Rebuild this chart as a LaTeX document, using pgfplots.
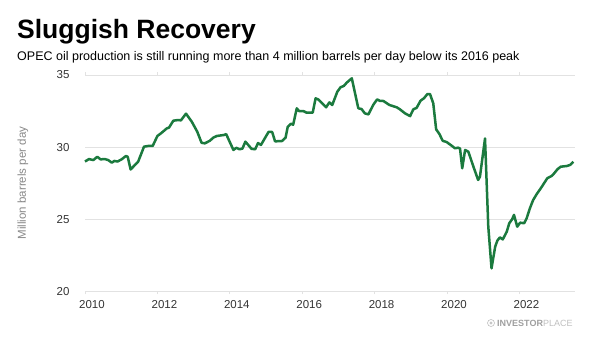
\documentclass[border=0pt]{standalone}
\usepackage{fontspec}
\setmainfont{Liberation Sans}
\usepackage{pgfplots}
\pgfplotsset{compat=1.18}
\definecolor{linegreen}{RGB}{27,122,62}
\definecolor{gridgray}{RGB}{226,226,226}
\definecolor{ticktext}{RGB}{51,51,51}
\definecolor{labelgray}{RGB}{136,136,136}
\begin{document}
\begin{tikzpicture}[x=1bp,y=1bp]
\useasboundingbox (0,0) rectangle (600,337);
\node[anchor=base west, inner sep=0pt] at (17,299) {\fontsize{26.5bp}{30bp}\selectfont\bfseries Sluggish Recovery};
\node[anchor=base west, inner sep=0pt] at (17,277) {\fontsize{12.5bp}{14bp}\selectfont OPEC oil production is still running more than 4 million barrels per day below its 2016 peak};
\node[rotate=90, inner sep=0pt, text=labelgray] at (23,154) {\fontsize{11.5bp}{13bp}\selectfont Million barrels per day};
\begin{axis}[
  at={(85bp,45.7bp)}, anchor=south west,
  scale only axis, width=490bp, height=216.3bp,
  xmin=2010, xmax=2023.536, ymin=20, ymax=35,
  axis line style={draw=none},
  ymajorgrids, grid style={gridgray, line width=0.8bp},
  ytick={20,25,30,35},
  xtick={2010,2012,...,2022},
  xtick align=outside, major tick length=3bp,
  xtick style={gridgray, line width=0.8bp},
  ytick style={draw=none},
  /pgf/number format/assume math mode=true,
  /pgf/number format/1000 sep={},
  tick label style={font=\fontsize{11.5bp}{13bp}\selectfont, text=ticktext},
  xticklabel style={xshift=7bp, yshift=-3bp},
  yticklabel style={xshift=-12bp},
  clip=false,
]
\addplot[linegreen, line width=2.5bp, line join=round] coordinates {
(2010.00,29.00) (2010.11,29.17) (2010.23,29.10) (2010.34,29.33) (2010.43,29.15)
(2010.55,29.17) (2010.64,29.10) (2010.74,28.92) (2010.81,29.04) (2010.90,29.00)
(2011.01,29.15) (2011.13,29.38) (2011.18,29.33) (2011.26,28.45) (2011.38,28.76)
(2011.47,29.00) (2011.63,30.03) (2011.75,30.08) (2011.87,30.08) (2012.00,30.77)
(2012.12,31.00) (2012.26,31.30) (2012.32,31.35) (2012.44,31.83) (2012.58,31.88)
(2012.65,31.85) (2012.79,32.32) (2012.95,31.76) (2013.10,31.07) (2013.22,30.30)
(2013.31,30.26) (2013.45,30.44) (2013.54,30.65) (2013.64,30.77) (2013.84,30.84)
(2013.90,30.90) (2014.10,29.80) (2014.18,29.95) (2014.27,29.85) (2014.35,29.90)
(2014.43,30.38) (2014.60,29.88) (2014.70,29.85) (2014.78,30.28) (2014.86,30.15)
(2015.07,31.05) (2015.17,31.05) (2015.25,30.40) (2015.44,30.42) (2015.54,30.65)
(2015.60,31.40) (2015.69,31.62) (2015.75,31.55) (2015.85,32.69) (2015.91,32.50)
(2016.03,32.50) (2016.12,32.39) (2016.29,32.39) (2016.37,33.38) (2016.44,33.31)
(2016.66,32.76) (2016.75,33.10) (2016.83,32.92) (2016.97,33.84) (2017.06,34.15)
(2017.15,34.24) (2017.23,34.47) (2017.37,34.77) (2017.55,32.69) (2017.64,32.64)
(2017.73,32.34) (2017.83,32.27) (2017.96,32.92) (2018.07,33.31) (2018.15,33.20)
(2018.24,33.20) (2018.41,32.92) (2018.61,32.76) (2018.70,32.62) (2018.84,32.34)
(2018.98,32.15) (2019.07,32.62) (2019.16,32.72) (2019.27,33.22) (2019.36,33.38)
(2019.46,33.68) (2019.53,33.68) (2019.62,33.04) (2019.70,31.23) (2019.79,30.91)
(2019.88,30.44) (2019.99,30.35) (2020.10,30.15) (2020.22,29.92) (2020.31,29.96)
(2020.36,29.90) (2020.42,28.53) (2020.50,29.80) (2020.59,29.68) (2020.73,28.64)
(2020.86,27.72) (2020.91,27.95) (2021.05,30.60) (2021.14,24.50) (2021.23,21.59)
(2021.33,23.09) (2021.39,23.51) (2021.46,23.74) (2021.54,23.60) (2021.65,24.13)
(2021.72,24.72) (2021.80,25.00) (2021.85,25.30) (2021.94,24.48) (2022.02,24.76)
(2022.13,24.72) (2022.20,25.06) (2022.29,25.76) (2022.38,26.33) (2022.48,26.75)
(2022.59,27.14) (2022.68,27.49) (2022.77,27.84) (2022.89,28.00) (2022.96,28.18)
(2023.05,28.46) (2023.14,28.64) (2023.31,28.69) (2023.40,28.76) (2023.49,28.99)
};
\end{axis}
\draw[gray!50, line width=0.6bp] (491,14) circle (3.5);
\fill[gray!45] (491,14) circle (1.6);
\node[anchor=base west, inner sep=0pt] at (497,10.5) {\fontsize{9bp}{10bp}\selectfont\textcolor{gray!75}{\bfseries INVESTOR}\textcolor{gray!50}{PLACE}};
\end{tikzpicture}
\end{document}
